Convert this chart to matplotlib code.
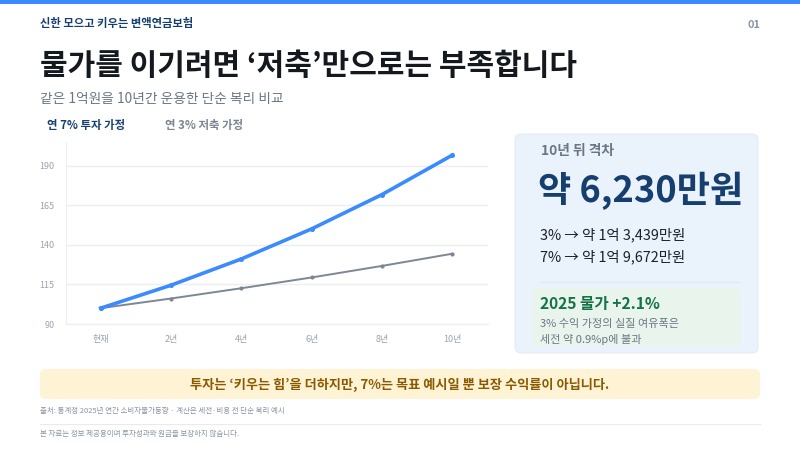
import matplotlib
matplotlib.use('Agg')
import matplotlib.pyplot as plt
from matplotlib.patches import FancyBboxPatch, Rectangle

plt.rcParams['font.family'] = ['Noto Sans CJK KR', 'DejaVu Sans']

# Chart data (index, 100 = today)
periods = ['현재', '2년', '4년', '6년', '8년', '10년']
invest_7 = [100, 114.5, 131.1, 150.1, 171.8, 196.7]
saving_3 = [100, 106.1, 112.6, 119.4, 126.7, 134.4]
y_ticks = [90, 115, 140, 165, 190]

NAVY = '#163f70'
BLUE = '#3b8bff'
GREY = '#6b7685'
W, H = 800, 450


def px(size):
    # css pixels to points at dpi 100
    return size * 0.72


def label(x, y, s, size, color, weight='normal', ha='left'):
    bg.text(x, y, s, fontsize=px(size), color=color, fontweight=weight,
            ha=ha, va='center')


def box(x0, y0, x1, y1, fill, edge='none', r=6):
    bg.add_patch(FancyBboxPatch((x0 + r, y0 + r), x1 - x0 - 2 * r, y1 - y0 - 2 * r,
                                boxstyle=f'round,pad={r},rounding_size={r}',
                                facecolor=fill, edgecolor=edge, linewidth=0.6))


fig = plt.figure(figsize=(8, 4.5), dpi=100)

# Background layer in pixel coordinates
bg = fig.add_axes([0, 0, 1, 1])
bg.set_xlim(0, W)
bg.set_ylim(H, 0)
bg.axis('off')

bg.add_patch(Rectangle((0, 0), W, 4, facecolor=BLUE, edgecolor='none'))
label(40, 24, '신한 모으고 키우는 변액연금보험', 11.3, NAVY, 'bold')
label(760, 25, '01', 11, '#8a94a3', 'bold', ha='right')
label(40, 65.5, '물가를 이기려면 ‘저축’만으로는 부족합니다', 30, '#14181f', 'bold')
label(40, 98.5, '같은 1억원을 10년간 운용한 단순 복리 비교', 13.7, GREY)
label(47, 125, '연 7% 투자 가정', 11.4, NAVY, 'bold')
label(165, 125, '연 3% 저축 가정', 11.4, '#7a8492', 'bold')

# Right panel
box(515, 134, 758, 353, '#eaf3fb', '#dfe8f2')
label(541, 150.5, '10년 뒤 격차', 13.8, GREY, 'bold')
label(538, 191, '약 6,230만원', 36.2, NAVY, 'bold')
label(540, 234.5, '3% → 약 1억 3,439만원', 14.4, '#1b2029')
label(540, 256.5, '7% → 약 1억 9,672만원', 14.4, '#1b2029')
bg.plot([540, 740], [281.5, 281.5], color='#e0e8f0', lw=0.8)
box(532, 288, 741, 346, '#e8f4ec')
label(540, 303.5, '2025 물가 +2.1%', 15.6, '#157347', 'bold')
label(540, 323.5, '3% 수익 가정의 실질 여유폭은', 11.1, GREY)
label(540, 339.5, '세전 약 0.9%p에 불과', 11.1, GREY)

# Bottom notes
box(40, 369, 760, 399, '#fff3d6')
label(400, 384.5, '투자는 ‘키우는 힘’을 더하지만, 7%는 목표 예시일 뿐 보장 수익률이 아닙니다.',
      13.2, '#8a5a00', 'bold', ha='center')
label(40, 411, '출처: 통계청 2025년 연간 소비자물가동향 · 계산은 세전·비용 전 단순 복리 예시', 7.5, '#8a94a3')
bg.plot([40, 760], [423.5, 423.5], color='#e8eaee', lw=0.8)
label(40, 434, '본 자료는 정보 제공용이며 투자성과와 원금을 보장하지 않습니다.', 7.5, '#8a94a3')

# Line chart
ax = fig.add_axes([65.5 / W, 1 - 324 / H, 422 / W, 182 / H])
ax.patch.set_alpha(0)
x = range(len(periods))
ax.plot(x, saving_3, color='#7d8794', lw=1.4, marker='o', ms=2, zorder=3)
ax.plot(x, invest_7, color=BLUE, lw=2.6, marker='o', ms=2.6, zorder=4)
ax.set_xlim(-0.5, 5.5)
ax.set_ylim(90, 205)
ax.set_xticks(list(x), periods)
ax.set_yticks(y_ticks)
ax.tick_params(length=0, labelsize=px(9), labelcolor='#9aa3af', pad=8)
ax.grid(axis='y', color='#eceef1', lw=1)
ax.set_axisbelow(True)
for side in ['top', 'right']:
    ax.spines[side].set_visible(False)
for side in ['left', 'bottom']:
    ax.spines[side].set_color('#eceef1')

fig.savefig('out.png', dpi=100)
